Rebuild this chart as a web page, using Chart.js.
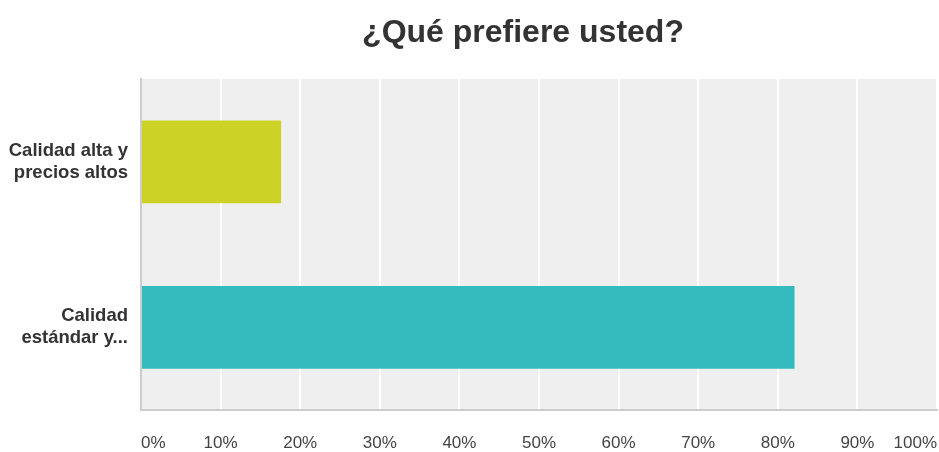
<!DOCTYPE html>
<html>
<head>
<meta charset="utf-8">
<script src="https://cdn.jsdelivr.net/npm/chart.js@4"></script>
<style>
  html, body { margin: 0; padding: 0; background: #fff; }
  #wrap { width: 939px; height: 452px; }
</style>
</head>
<body>
<div id="wrap"><canvas id="grafico" width="939" height="452"></canvas></div>
<script>
// datos
const titulo = "¿Qué prefiere usted?";
const categorias = [
  ["Calidad alta y", "precios altos"],
  ["Calidad", "estándar y..."],
];
const porcentajes = [17.6, 82.1];
const colores = ["#cdd326", "#33bbbd"];
const ticksX = [0, 10, 20, 30, 40, 50, 60, 70, 80, 90, 100];

const fondoArea = {
  id: "fondoArea",
  beforeDraw(chart) {
    const { ctx, chartArea } = chart;
    ctx.save();
    ctx.fillStyle = "#efefef";
    ctx.fillRect(chartArea.left, chartArea.top, chartArea.right - chartArea.left, chartArea.bottom - chartArea.top);
    ctx.restore();
  },
};

// titulo propio, para poder ubicarlo como en la imagen
const tituloPlugin = {
  id: "tituloPlugin",
  afterDraw(chart) {
    const ctx = chart.ctx;
    ctx.save();
    ctx.font = "bold 32px 'Liberation Sans', Arial, sans-serif";
    ctx.fillStyle = "#333333";
    ctx.textAlign = "center";
    ctx.textBaseline = "alphabetic";
    ctx.fillText(titulo, 523, 42);
    ctx.restore();
  },
};

const grafico = new Chart("grafico", {
  type: "bar",
  data: {
    labels: categorias,
    datasets: [
      {
        data: porcentajes,
        backgroundColor: colores,
        borderWidth: 0,
        categoryPercentage: 1,
        barPercentage: 0.5,
      },
    ],
  },
  plugins: [fondoArea, tituloPlugin],
  options: {
    indexAxis: "y",
    responsive: false,
    animation: false,
    layout: { padding: { top: 79, right: 2, left: 0, bottom: 0 } },
    plugins: {
      legend: { display: false },
      title: { display: false },
      tooltip: { enabled: false },
    },
    scales: {
      x: {
        min: 0,
        max: 100,
        afterBuildTicks: (scale) => {
          scale.ticks = ticksX.map((v) => ({ value: v }));
        },
        afterFit: (scale) => {
          scale.height = 42;
          scale.paddingLeft = 0;
          scale.paddingRight = 0;
        },
        grid: { color: "#ffffff", lineWidth: 2, drawTicks: false },
        border: { display: true, color: "#cccccc", width: 2 },
        ticks: {
          align: "inner",
          padding: 23,
          color: "#444444",
          font: { family: "'Liberation Sans', Arial, sans-serif", size: 17 },
          callback: (v) => v + "%",
        },
      },
      y: {
        afterFit: (scale) => {
          scale.width = 141;
        },
        grid: { display: false, drawTicks: false },
        border: { display: true, color: "#cccccc", width: 2 },
        ticks: {
          padding: 13,
          color: "#333333",
          font: { family: "'Liberation Sans', Arial, sans-serif", size: 18.5, weight: "bold", lineHeight: 1.2 },
        },
      },
    },
  },
});
</script>
</body>
</html>
